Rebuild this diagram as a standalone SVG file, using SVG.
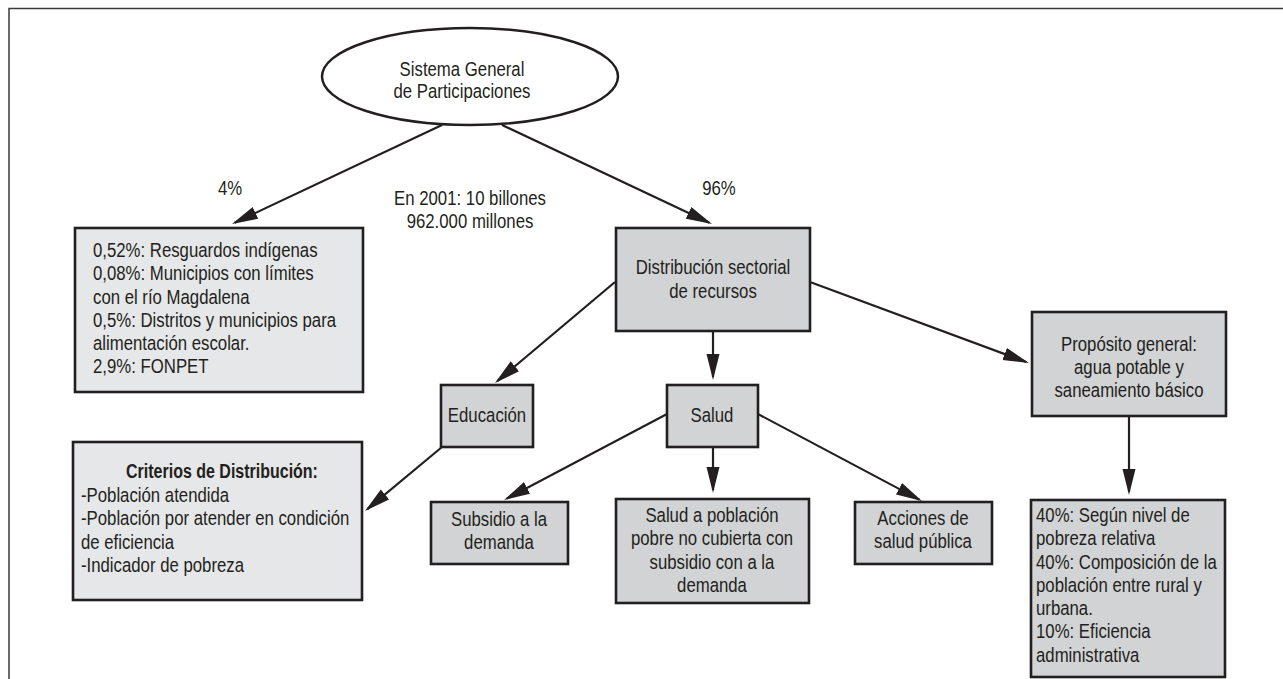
<svg xmlns="http://www.w3.org/2000/svg" width="1283" height="679" viewBox="0 0 1283 679">
<style>
.t{font-family:"Liberation Sans",Arial,sans-serif;font-size:19.5px;fill:#231f20}
.b{font-weight:bold}
.lt{fill:#e6e7e8;stroke:#231f20;stroke-width:2.6}
.dk{fill:#d1d3d4;stroke:#231f20;stroke-width:2.6}
.c{stroke:#231f20;stroke-width:2.2;fill:none;marker-end:url(#ah)}
</style>
<defs>
<marker id="ah" markerUnits="userSpaceOnUse" markerWidth="26" markerHeight="14" viewBox="0 0 26 14" refX="23" refY="7" orient="auto">
<path d="M0,0.5 L26,7 L0,13.5 z" fill="#231f20"/>
</marker>
</defs>
<rect x="0" y="0" width="1283" height="679" fill="#ffffff"/>
<path d="M9,679 V8.5 H1283" fill="none" stroke="#3a3a3a" stroke-width="1.5"/>

<g id="connectors">
<path class="c" d="M442,125 L234.7,222.7"/>
<path class="c" d="M502,125 L709.3,222.7"/>
<path class="c" d="M615,282 L497.3,381.1"/>
<path class="c" d="M713,331 L713,377"/>
<path class="c" d="M810,282 L1026.2,362"/>
<path class="c" d="M442,447 L367.3,509.1"/>
<path class="c" d="M667,414 L506.7,498.6"/>
<path class="c" d="M713,447 L713,490"/>
<path class="c" d="M758,414 L919.3,499.6"/>
<path class="c" d="M1129,416 L1129,492"/>
</g>

<g id="labels">
<text class="t" transform="translate(230,195) scale(0.86,1)" text-anchor="middle">4%</text>
<text class="t" transform="translate(719,195) scale(0.86,1)" text-anchor="middle">96%</text>
<text class="t" transform="translate(470,0) scale(0.86,1)" text-anchor="middle"><tspan x="0" y="205">En 2001: 10 billones</tspan><tspan x="0" y="228">962.000 millones</tspan></text>
</g>

<g id="node-sgp">
<ellipse cx="470" cy="76.5" rx="148" ry="48.5" fill="#ffffff" stroke="#231f20" stroke-width="2.5"/>
<text class="t" transform="translate(462,0) scale(0.86,1)" text-anchor="middle"><tspan x="0" y="76">Sistema General</tspan><tspan x="0" y="98.5">de Participaciones</tspan></text>
</g>

<g id="node-resguardos">
<rect class="lt" x="75" y="228" width="288" height="164"/>
<text class="t" transform="translate(93,0) scale(0.86,1)"><tspan x="0" y="257">0,52%: Resguardos indígenas</tspan><tspan x="0" y="280.3">0,08%: Municipios con límites</tspan><tspan x="0" y="303.6">con el río Magdalena</tspan><tspan x="0" y="326.9">0,5%: Distritos y municipios para</tspan><tspan x="0" y="350.2">alimentación escolar.</tspan><tspan x="0" y="373.5">2,9%: FONPET</tspan></text>
</g>

<g id="node-distribucion">
<rect class="dk" x="616" y="228" width="194" height="103"/>
<text class="t" transform="translate(713,0) scale(0.86,1)" text-anchor="middle"><tspan x="0" y="274">Distribución sectorial</tspan><tspan x="0" y="298">de recursos</tspan></text>
</g>

<g id="node-educacion">
<rect class="dk" x="441" y="385" width="92" height="62"/>
<text class="t" transform="translate(487,422) scale(0.86,1)" text-anchor="middle">Educación</text>
</g>

<g id="node-salud">
<rect class="dk" x="667" y="385" width="91" height="62"/>
<text class="t" transform="translate(712,422) scale(0.86,1)" text-anchor="middle">Salud</text>
</g>

<g id="node-proposito">
<rect class="dk" x="1032" y="312" width="194" height="104"/>
<text class="t" transform="translate(1129,0) scale(0.86,1)" text-anchor="middle"><tspan x="0" y="351">Propósito general:</tspan><tspan x="0" y="374">agua potable y</tspan><tspan x="0" y="397">saneamiento básico</tspan></text>
</g>

<g id="node-criterios">
<rect class="lt" x="73" y="442" width="289" height="158"/>
<text class="t b" transform="translate(222,478) scale(0.82,1)" text-anchor="middle">Criterios de Distribución:</text>
<text class="t" transform="translate(81,0) scale(0.86,1)"><tspan x="0" y="502">-Población atendida</tspan><tspan x="0" y="525.3">-Población por atender en condición</tspan><tspan x="0" y="548.6">de eficiencia</tspan><tspan x="0" y="572">-Indicador de pobreza</tspan></text>
</g>

<g id="node-subsidio">
<rect class="dk" x="431" y="502" width="137" height="62"/>
<text class="t" transform="translate(499,0) scale(0.86,1)" text-anchor="middle"><tspan x="0" y="526">Subsidio a la</tspan><tspan x="0" y="549">demanda</tspan></text>
</g>

<g id="node-salud-poblacion">
<rect class="dk" x="616" y="499" width="193" height="104"/>
<text class="t" transform="translate(712,0) scale(0.86,1)" text-anchor="middle"><tspan x="0" y="522">Salud a población</tspan><tspan x="0" y="545.3">pobre no cubierta con</tspan><tspan x="0" y="568.6">subsidio con a la</tspan><tspan x="0" y="592">demanda</tspan></text>
</g>

<g id="node-acciones">
<rect class="dk" x="855" y="502" width="137" height="62"/>
<text class="t" transform="translate(923,0) scale(0.86,1)" text-anchor="middle"><tspan x="0" y="525">Acciones de</tspan><tspan x="0" y="548">salud pública</tspan></text>
</g>

<g id="node-agua-criterios">
<rect class="dk" x="1031" y="500" width="194" height="177"/>
<text class="t" transform="translate(1036,0) scale(0.86,1)"><tspan x="0" y="522">40%: Según nivel de</tspan><tspan x="0" y="545.3">pobreza relativa</tspan><tspan x="0" y="568.6">40%: Composición de la</tspan><tspan x="0" y="591.9">población entre rural y</tspan><tspan x="0" y="615.2">urbana.</tspan><tspan x="0" y="638.5">10%: Eficiencia</tspan><tspan x="0" y="661.8">administrativa</tspan></text>
</g>
</svg>
